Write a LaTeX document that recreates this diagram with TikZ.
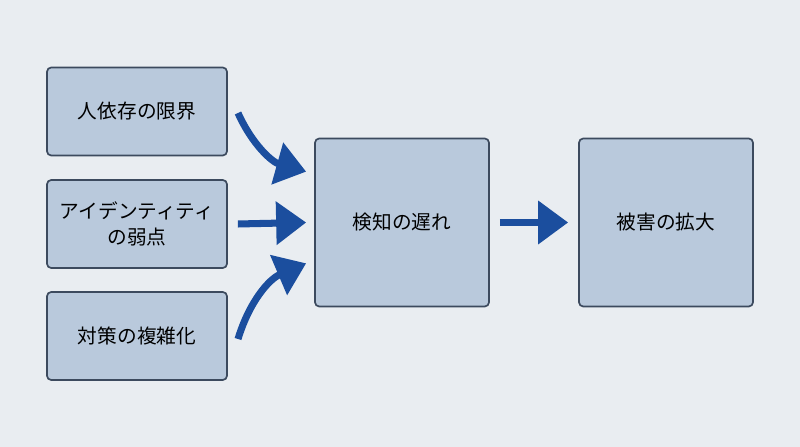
\documentclass[tikz,border=0pt]{standalone}
\usepackage{fontspec}
\newfontfamily\cjk{Noto Sans CJK JP}
\usetikzlibrary{arrows.meta, positioning}
\definecolor{bgcol}{HTML}{E9EDF1}
\definecolor{boxfill}{HTML}{B9C9DC}
\definecolor{boxline}{HTML}{3C4A5E}
\definecolor{arrowcol}{HTML}{1B4E9E}

\begin{document}
\begin{tikzpicture}[every node/.style={align=center},
    cause/.style={
        draw=boxline,
        line width=1.2pt,
        rounded corners=3pt,
        minimum width=4.5cm,
        minimum height=2.2cm,
        font=\cjk\fontsize{14}{19}\selectfont,
        fill=boxfill
    },
    stage/.style={
        cause,
        minimum width=4.35cm,
        minimum height=4.2cm
    },
    flow/.style={arrowcol, line width=5pt, -{Triangle[length=0.75cm,width=1.05cm]}}]

    % background
    \fill[bgcol] (0,0) rectangle (20,11.175);
    \useasboundingbox (0,0) rectangle (20,11.175);

    % Causes
    \node[cause] (human) at (3.425,8.3875) {人依存の限界};
    \node[cause] (ident) at (3.425,5.575) {アイデンティティ\\の弱点};
    \node[cause] (complex) at (3.425,2.775) {対策の複雑化};

    % Stages
    \node[stage] (delay) at (10.05,5.6125) {検知の遅れ};
    \node[stage] (damage) at (16.65,5.6125) {被害の拡大};

    % Arrows
    \coordinate (h0) at (5.95,8.35);
    \coordinate (c0) at (5.95,2.7);
    \draw[flow] (h0) to[bend right=25] ([xshift=-2mm,yshift=-0.85cm]delay.north west);
    \draw[flow] (ident.east) ++(0.25,0) coordinate (i0) (i0) -- ([xshift=-2mm]delay.west);
    \draw[flow] (c0) to[bend left=25] ([xshift=-2mm,yshift=1.1cm]delay.south west);
    \draw[flow] ([xshift=2.5mm]delay.east) -- ([xshift=-2.5mm]damage.west);
\end{tikzpicture}
\end{document}
